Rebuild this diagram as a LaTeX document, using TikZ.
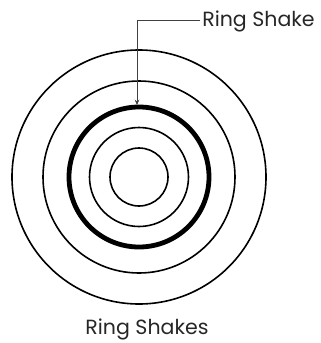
\documentclass[tikz,border=0pt]{standalone}
\usepackage{fontspec}
\setmainfont{Poppins}
\usetikzlibrary{arrows.meta}
\begin{document}
\begin{tikzpicture}[x=0.75pt,y=-0.75pt,
  ring/.style={draw=black,line width=1.2pt},
  shake/.style={draw=black,line width=3.6pt},
  leader/.style={draw=black!75,line width=0.7pt},
  lbl/.style={inner sep=0pt,font=\fontsize{15.4}{18}\selectfont,text=black!85}]
\useasboundingbox (0,0) rectangle (321,343);
\coordinate (c) at (139,177);
\draw[ring] (c) circle[radius=127];
\draw[ring] (c) circle[radius=96];
\draw[shake] (c) circle[radius=70];
\draw[ring] (c) circle[radius=49.5];
\draw[ring] (c) circle[radius=29];
\node[lbl,anchor=west] (rs) at (202,21) {Ring Shake};
\coordinate (corner) at (137,20);
\coordinate (tip) at (137,105);
\draw[leader,-{Stealth[length=4pt,width=3.5pt]}] (rs.west |- corner) ++(-2,0) -- (corner) -- (tip);
\node[lbl] (title) at (147,329) {Ring Shakes};
\end{tikzpicture}
\end{document}
